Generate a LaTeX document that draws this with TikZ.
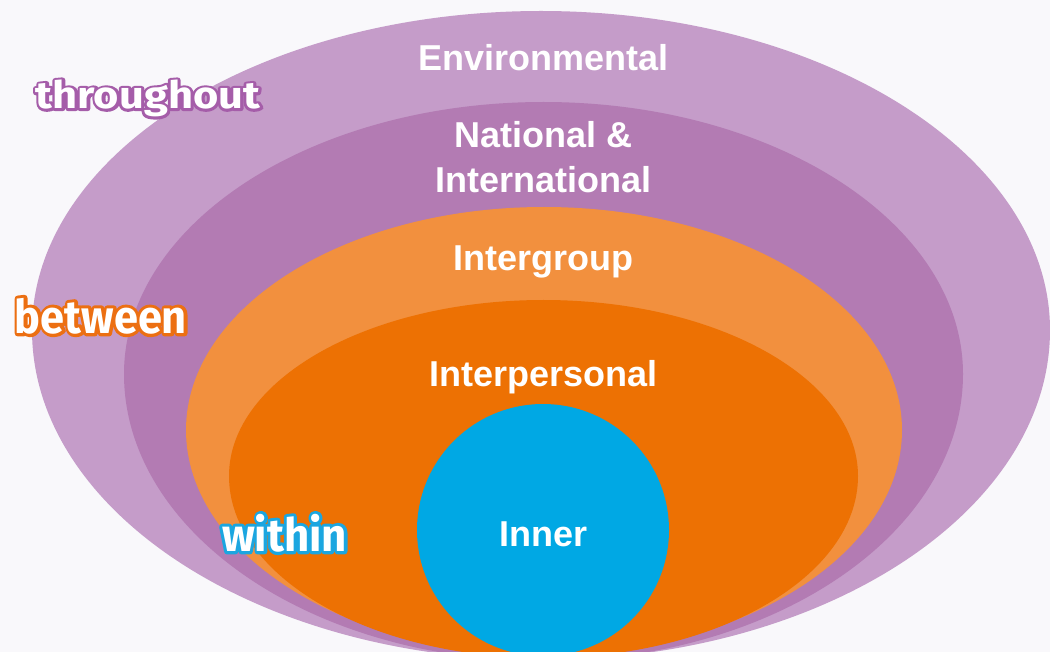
\documentclass[tikz,border=0pt]{standalone}
\usepackage{fontspec}
\usepackage{graphicx}
\setmainfont{Liberation Sans}
\newfontfamily\shoutfont{Fira Sans}

\definecolor{bgpage}{HTML}{F9F8FB}
\definecolor{envpurple}{HTML}{C59CC9}
\definecolor{natpurple}{HTML}{B37BB3}
\definecolor{grouporange}{HTML}{F2903E}
\definecolor{persorange}{HTML}{ED7103}
\definecolor{innerblue}{HTML}{00A8E4}
\definecolor{thrrim}{HTML}{A55DA9}
\definecolor{betrim}{HTML}{EC6F12}
\definecolor{withrim}{HTML}{1BA6E0}

% outlined word: rim colour, word (stroked copy under the white one)
\newcommand{\rimword}[2]{%
  \rlap{\color{#1}\special{pdf:literal direct 2 Tr 5.5 w 1 j}#2\special{pdf:literal direct 0 Tr}}#2}

\begin{document}
\begin{tikzpicture}[x=1pt, y=-1pt,
    ringtext/.style={text=white, font=\fontsize{36}{43}\selectfont\bfseries, inner sep=0pt, anchor=base},
    shout/.style={text=white, inner sep=0pt, font=\shoutfont\fontsize{40}{40}\selectfont\bfseries}]
  \useasboundingbox (0,0) rectangle (1050,652);
  \fill[bgpage] (0,0) rectangle (1050,652);
  \clip (0,0) rectangle (1050,652);

  % rings, outside in
  \fill[envpurple] (1050,330) arc[start angle=0, end angle=180, x radius=509pt, y radius=319pt]
    arc[start angle=180, end angle=360, x radius=509pt, y radius=330pt] -- cycle;
  \fill[natpurple] (963,374) arc[start angle=0, end angle=180, x radius=419.5pt, y radius=272pt]
    arc[start angle=180, end angle=360, x radius=419.5pt, y radius=287pt] -- cycle;
  \fill[grouporange] (902,430) arc[start angle=0, end angle=180, x radius=358pt, y radius=223pt]
    arc[start angle=180, end angle=360, x radius=358pt, y radius=225pt] -- cycle;
  \fill[persorange] (858,476) arc[start angle=0, end angle=180, x radius=314.5pt, y radius=176pt]
    arc[start angle=180, end angle=360, x radius=314.5pt, y radius=182pt] -- cycle;
  \fill[innerblue] (543,530) circle[radius=126pt];

  \node[ringtext] (environmental) at (543.5,71) {Environmental};
  \node[ringtext] (national) at (543.5,148) {National \&};
  \node[ringtext] (international) at (543.5,193) {International};
  \node[ringtext] (intergroup) at (543.5,271) {Intergroup};
  \node[ringtext] (interpersonal) at (543.5,387) {Interpersonal};
  \node[ringtext] (inner) at (543.5,546) {Inner};

  \node[shout] (throughout) at (148,98.5) {\resizebox*{224pt}{37pt}{\rimword{thrrim}{throughout}}};
  \node[shout] (between) at (101,316) {\resizebox*{172pt}{36pt}{\rimword{betrim}{between}}};
  \node[shout] (within) at (284.5,533) {\resizebox*{125pt}{38pt}{\rimword{withrim}{within}}};
\end{tikzpicture}
\end{document}
